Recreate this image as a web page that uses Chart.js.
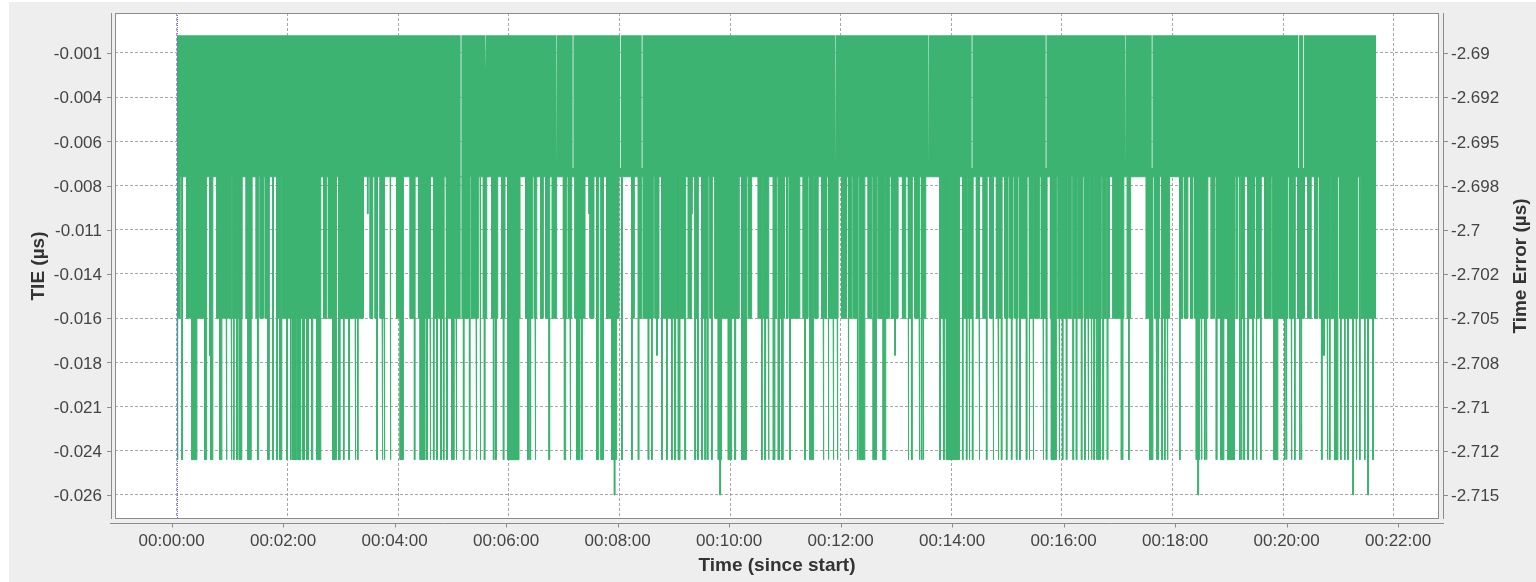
<!DOCTYPE html>
<html><head><meta charset="utf-8">
<script src="https://cdn.jsdelivr.net/npm/chart.js@4/dist/chart.umd.min.js"></script>
<style>html,body{margin:0;padding:0;background:#fff;}canvas{display:block;}</style>
</head><body><canvas id="c" width="1536" height="582"></canvas>
<script>
// ===== data (time in seconds since start, TIE in µs) =====
const dataStart = 0;
const dataEnd = 1300.8;
const levelTop = 0;
const levelBase = -0.008;
const levelMid = -0.016;
const levelDeep = -0.024;
const levelSpike = -0.026;
// stretches where TIE reaches -0.016
const midDips = [[0,3.6],[10.8,13.7],[15.1,27.8],[28.9,32.5],[35.4,38.3],[43.3,50.6],[51.3,54.9],[56.3,59.2],[60.7,65],[66.8,70.8],[75.1,81.6],[86,88.9],[90.3,93.9],[95.8,100.4],[108.4,112],[114.9,117.8],[121,151.8],[159,162.6],[164.4,173.4],[177.1,202.4],[209.6,212.5],[215,217.5],[220.4,224.8],[238.5,245.7],[253,258],[262,274.6],[278.3,281.9],[283.7,289.8],[292,298.1],[300,307.2],[309.5,318],[319.8,327],
[332.4,336.1],[341.5,348],[352.3,355.9],[358.8,372.2],[378.3,385.6],[387.7,390.3],[394.6,397.5],[400,403.6],[407.2,411.9],[419.2,422.8],[424.6,428.2],[431.8,442.7],[448.1,452.4],[455.3,457.8],[460,462.9],[466.2,479.5],[493.3,496.2],[500.5,504.1],[505.9,516.8],[518.6,522.9],[525.8,539.5],[542,551.1],[554.7,558.3],[561.9,565.5],[569.2,576.4],[578.2,580.7],[583.6,587.2],[590.8,598.1],[601.7,610],[612.5,616.1],[619.8,623.4],[630.6,634.2],[636,642.2],[646.9,650.5],[654,659],
[661.2,663],[666.6,675.7],[679.3,684.7],[686.5,690.9],[692,695.6],[699.2,704.6],[706.4,711.8],[712.9,717.2],[720.9,726.3],[728.1,731.7],[733.5,738.9],[740.7,746.2],[749.8,753.4],[755.2,758.8],[760.6,766],[769.7,773.3],[775.1,782.3],[787,790.6],[793.1,797.8],[800.4,805.8],[807.6,812.3],[827.5,831.1],[832.9,849.2],[852.1,856.4],[858.2,863.6],[867.2,870.8],[874.5,878.1],[881.7,885.3],[888.9,894.3],[898,901.6],[903.4,907],[908.8,912.4],[914.2,921.4],[924.3,928.7],[930.5,935.9],[937.7,943.1],[947.5,954],[955.8,959.4],[961.2,964.8],[966.6,970.2],[972,975.6],[977.5,982.9],[984.6,990],
[991.1,995.4],[996.2,1002.7],[1004.5,1008.1],[1009.2,1011.7],[1015.3,1027.2],[1030.9,1034.5],[1051.5,1058.7],[1060.5,1065.9],[1068.4,1076.8],[1087.6,1091.2],[1093,1096.6],[1099.5,1102.1],[1103.9,1118.3],[1121.9,1125.5],[1128.4,1147.2],[1149,1150.8],[1154.5,1158.1],[1161.7,1168.9],[1170.7,1174.3],[1179.8,1187],[1188.8,1205.1],[1206.9,1211.6],[1215.9,1223.1],[1226.7,1230.4],[1234,1237.6],[1239.4,1250.2],[1252,1259.3],[1261.1,1270.1],[1271.9,1281],[1284.6,1291.8],[1293.6,1300.8]];
// wider stretches reaching -0.024
const deepBlocks = [[16.2,21.7],[30,31.8],[36.8,39],[46.2,48.8],[67.6,70.4],[77,80.6],[98.6,100],[111.3,113.8],[125.4,130],[131.2,134.4],[136.6,138.4],[140.9,142.7],[146,147.4],[151.8,156.1],[168.8,172.7],[175.3,177],[242.1,245.7],[263.8,269.2],
[358.8,371.1],[420.3,421.7],[433.6,437.2],[455.3,457.1],[460,462.5],[471.6,477],[543.9,545.7],[587.2,590.8],[598.1,601.7],[612.5,617.9],[646.9,648.7],[655.9,657.7],
[686.5,690.1],[740.7,746.2],[755.2,758.8],[766,768.9],[834.7,848.4],[948.5,954],
[1024.4,1026.2],[1055.1,1058.7],[1105.7,1109.3],[1132.1,1135.7],[1140,1147.2],[1189.9,1194.2],[1255.6,1259.3]];
// single samples reaching -0.024
const deepLines = [0.3,5.4,53.5,58.9,61.4,65,87.4,104,108.4,119.2,123.2,180.7,186.5,193.3,195.9,216.8,222.6,224.8,231.3,257.6,271,274.6,278.3,281.9,286.2,289.1,292.7,298.1,300,302.8,310.8,317.3,324.5,
328.8,333.5,343.3,345.8,354.1,380.5,383,388.5,403.6,426.4,439,482.4,493.3,500.5,511.3,514.9,525.8,531.2,536.6,540.2,551.1,561.9,564.8,569.2,572.8,575.3,580,605.3,634.2,637.8,641.4,652.3,
664.8,681.1,701,706.4,711.8,716.2,728.1,738.2,793.1,796.8,805.1,807.6,809.4,827.5,831.8,852.1,856.4,859.3,862.9,870.1,878.1,885.3,890.7,894.3,899.8,905.2,910.6,914.2,921.4,924.3,928.7,939.5,943.1,956.9,960.5,964.8,972,975.6,981.1,984.7,988.3,
991.8,994.7,997.2,999.1,1000.9,1004.5,1009.2,1032.3,1062.3,1064.1,1068.4,1071.3,1074.2,1087.6,1111.1,1114.7,1116.5,1127.4,1152.7,1154.5,1157.4,1161.7,1167.1,1170.7,1175.4,1201.4,1203.3,1208.7,1212.3,1217.7,1219.5,1241.5,1247.7,1250.2,1262.2,1266.5,1270.1,1279.1,1282.8,1288.2,1297.2];
// samples reaching -0.026
const spikeLines = [474.5,589,1107.5,1275.5,1291.8];
// isolated intermediate minima [time, TIE]
const partialDips = [[35.5,-0.0181],[206.7,-0.0101],[447,-0.0101],[520.4,-0.0181],[558.3,-0.0101],[598.1,-0.0101],[688.3,-0.0181],[778.7,-0.0181],[1103.9,-0.0101],[1242.5,-0.0181],[1244,-0.0181],[1272.6,-0.0101]];
// moments where TIE never reached 0 [time, max TIE]
const topGaps = [[307.8,-0.008],[334.2,-0.002],[411.3,-0.0075],[429.3,-0.0075],[480.6,-0.0075],[504.2,-0.0075],[713.9,-0.0075],[815,-0.0075],[862.1,-0.0075],[942.4,-0.0075],[1028.6,-0.0075],[1057.4,-0.0075],[1216.4,-0.0075],[1221.8,-0.0075]];

// axes
const tieTicks = [-0.001,-0.0035,-0.006,-0.0085,-0.011,-0.0135,-0.016,-0.0185,-0.021,-0.0235,-0.026];
const tieLabels = ['-0.001','-0.004','-0.006','-0.008','-0.011','-0.014','-0.016','-0.018','-0.021','-0.024','-0.026'];
const teTicks = [-2.69,-2.6925,-2.695,-2.6975,-2.7,-2.7025,-2.705,-2.7075,-2.71,-2.7125,-2.715];
const teLabels = ['-2.69','-2.692','-2.695','-2.698','-2.7','-2.702','-2.705','-2.708','-2.71','-2.712','-2.715'];
const timeTicks = [0,120,240,360,480,600,720,840,960,1080,1200,1320];
const timeLabels = ['00:00:00','00:02:00','00:04:00','00:06:00','00:08:00','00:10:00','00:12:00','00:14:00','00:16:00','00:18:00','00:20:00','00:22:00'];
const teOffset = -2.689;
const tieMin = -0.0273575, tieMax = 0.0012624;
const timeMin = -67.14, timeMax = 1369.0;
const timeAxisMin = -61.0, timeAxisMax = 1364.0;

// ===== build envelopes =====
const sampleW = 0.8;
function buildLower(){
  const iv = [];
  midDips.forEach(([s,e])=>iv.push([s,e,levelMid]));
  deepBlocks.forEach(([s,e])=>iv.push([s,e,levelDeep]));
  deepLines.forEach(t=>iv.push([t,t+sampleW,levelDeep]));
  spikeLines.forEach(t=>iv.push([t,t+sampleW,levelSpike]));
  partialDips.forEach(([t,v])=>iv.push([t,t+sampleW,v]));
  const b = new Set([dataStart,dataEnd]);
  iv.forEach(([s,e])=>{b.add(Math.max(dataStart,Math.min(dataEnd,s)));b.add(Math.max(dataStart,Math.min(dataEnd,e)));});
  const xs=[...b].sort((a,c)=>a-c);
  const pts=[];
  for(let i=0;i<xs.length-1;i++){
    const a=xs[i],c=xs[i+1];
    let lv=levelBase;
    iv.forEach(([s,e,l])=>{if(s<=a&&e>=c&&l<lv)lv=l;});
    if(pts.length&&pts[pts.length-1].y===lv){pts[pts.length-1].x=c;}
    else{pts.push({x:a,y:lv},{x:c,y:lv});}
  }
  return pts;
}
function buildUpper(){
  const pts=[{x:dataStart,y:levelTop}];
  topGaps.slice().sort((a,c)=>a[0]-c[0]).forEach(([t,v])=>{
    pts.push({x:t,y:levelTop},{x:t,y:v},{x:t+sampleW,y:v},{x:t+sampleW,y:levelTop});
  });
  pts.push({x:dataEnd,y:levelTop});
  return pts;
}

const GREEN='#3cb371';
const tickFont={family:'Liberation Sans',size:17};
const titleFont={family:'Liberation Sans',size:19,weight:'bold'};
const noPad=s=>{s.paddingTop=0;s.paddingBottom=0;s.paddingLeft=0;s.paddingRight=0;};

const framePlugin={
  id:'frame',
  beforeDraw(chart){
    const c=chart.ctx,a=chart.chartArea;
    c.save();
    c.fillStyle='#ffffff';c.fillRect(0,0,chart.width,chart.height);
    c.fillStyle='#eeeeee';c.fillRect(9,2,chart.width-9,chart.height-2);
    c.fillStyle='#ffffff';c.fillRect(a.left,a.top,a.right-a.left,a.bottom-a.top);
    c.restore();
  },
  afterDatasetsDraw(chart){
    const c=chart.ctx,a=chart.chartArea,sx=chart.scales.x,sx2=chart.scales.x2,sy=chart.scales.y,sy2=chart.scales.y2;
    c.save();
    // start marker
    const mx=Math.round(sx.getPixelForValue(dataStart))+0.5;
    c.strokeStyle='#6a6aff';c.lineWidth=1;c.setLineDash([1,1]);
    c.beginPath();c.moveTo(mx,a.top);c.lineTo(mx,a.bottom);c.stroke();
    c.setLineDash([]);
    // plot frame
    c.strokeStyle='#8c8c8c';
    c.strokeRect(a.left+0.5,a.top+0.5,a.right-a.left-1,a.bottom-a.top-1);
    // offset axis lines
    const lx=a.left-3.5, rx=a.right+4.5, by=a.bottom+4.5;
    c.beginPath();
    c.moveTo(lx,a.top);c.lineTo(lx,a.bottom);
    c.moveTo(rx,a.top);c.lineTo(rx,a.bottom);
    c.moveTo(a.left-5,by);c.lineTo(a.right+5,by);
    // tick marks
    sy.ticks.forEach(t=>{const y=Math.round(sy.getPixelForValue(t.value))+0.5;c.moveTo(lx-4.5,y);c.lineTo(lx,y);});
    sy2.ticks.forEach(t=>{const y=Math.round(sy2.getPixelForValue(t.value))+0.5;c.moveTo(rx,y);c.lineTo(rx+4.5,y);});
    sx2.ticks.forEach(t=>{const x=Math.round(sx2.getPixelForValue(t.value))+0.5;c.moveTo(x,by);c.lineTo(x,by+4);});
    c.stroke();
    // right axis title (reads bottom to top)
    c.translate(1521,(a.top+a.bottom)/2);c.rotate(-Math.PI/2);
    c.fillStyle='#333333';c.font='bold 19px "Liberation Sans"';c.textAlign='center';c.textBaseline='middle';
    c.fillText('Time Error (µs)',0,0);
    c.restore();
  }
};

new Chart(document.getElementById('c'),{
  type:'line',
  data:{datasets:[
    {label:'upper',data:buildUpper(),borderColor:'rgba(0,0,0,0)',borderWidth:1,pointRadius:0,fill:false,tension:0},
    {label:'TIE',data:buildLower(),borderColor:GREEN,backgroundColor:GREEN,borderWidth:1,pointRadius:0,fill:'-1',tension:0}
  ]},
  options:{
    responsive:false,animation:false,events:[],
    layout:{padding:{top:13,left:0,right:0,bottom:0}},
    plugins:{legend:{display:false},tooltip:{enabled:false}},
    scales:{
      x:{type:'linear',position:'bottom',min:timeMin,max:timeMax,
        afterBuildTicks:s=>{s.ticks=timeTicks.map(v=>({value:v}));},
        ticks:{display:false},
        grid:{color:'#a8a8a8',lineWidth:1,drawTicks:false},
        border:{display:false,dash:[3,2]},
        afterFit:s=>{s.height=0;noPad(s);}},
      x2:{type:'linear',position:'bottom',min:timeAxisMin,max:timeAxisMax,
        afterBuildTicks:s=>{s.ticks=timeTicks.map(v=>({value:v}));},
        ticks:{autoSkip:false,maxRotation:0,font:tickFont,color:'#444444',padding:12,callback:(v,i)=>timeLabels[i]},
        grid:{display:false,drawTicks:false},border:{display:false},
        title:{display:true,text:'Time (since start)',font:titleFont,color:'#333333',padding:{top:0,bottom:5}},
        afterFit:s=>{s.height=63;noPad(s);}},
      y:{type:'linear',position:'left',min:tieMin,max:tieMax,
        afterBuildTicks:s=>{s.ticks=tieTicks.map(v=>({value:v}));},
        ticks:{autoSkip:false,font:tickFont,color:'#444444',padding:13,labelOffset:1.5,callback:(v,i)=>tieLabels[i]},
        grid:{color:'#a8a8a8',lineWidth:1,drawTicks:false},
        border:{display:false,dash:[3,2]},
        title:{display:true,text:'TIE (µs)',font:titleFont,color:'#333333',padding:{top:27,bottom:0}},
        afterFit:s=>{s.width=115;noPad(s);}},
      y2:{type:'linear',position:'right',min:tieMin+teOffset,max:tieMax+teOffset,
        afterBuildTicks:s=>{s.ticks=teTicks.map(v=>({value:v}));},
        ticks:{autoSkip:false,font:tickFont,color:'#444444',padding:12,labelOffset:1.5,callback:(v,i)=>teLabels[i]},
        grid:{display:false,drawTicks:false},border:{display:false},
        afterFit:s=>{s.width=97;noPad(s);}}
    }
  },
  plugins:[framePlugin]
});
</script></body></html>
